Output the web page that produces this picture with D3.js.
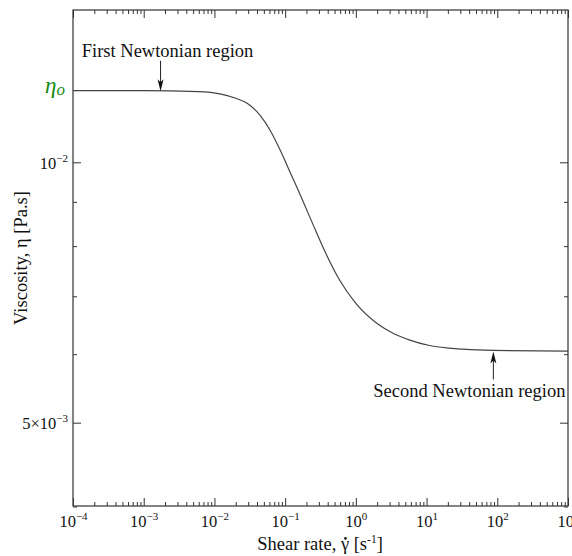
<!DOCTYPE html>
<html>
<head>
<meta charset="utf-8">
<script src="https://cdn.jsdelivr.net/npm/d3@7"></script>
<style>
  body { margin: 0; background: #fff; }
  svg text { font-family: "Liberation Serif", "Times New Roman", serif; fill: #111; }
</style>
</head>
<body>
<svg id="chart" width="572" height="556"></svg>
<script>
// Flow curve: viscosity vs. shear rate (shear-thinning fluid between two Newtonian plateaus)
const shearRate = [1e-4, 1e-3, 0.006, 0.012, 0.02, 0.029, 0.044, 0.061, 0.085, 0.117, 0.157,
                   0.25, 0.39, 0.6, 1.0, 2.0, 3.4, 5.8, 11, 33, 87, 1000];
const viscosity = [0.01210, 0.01210, 0.01207, 0.01200, 0.01186, 0.01170, 0.01134, 0.01090,
                   0.01033, 0.009745, 0.00924, 0.00846, 0.00780, 0.00729, 0.00687, 0.00651,
                   0.00634, 0.00623, 0.00614, 0.00608, 0.00606, 0.00605];

// Axis ticks
const xMajorExponents = [-4, -3, -2, -1, 0, 1, 2, 3];
const xMajorLabels = ["−4", "−3", "−2", "−1", "0", "1", "2", "3"];
const yMajorTicks = [0.005, 0.01];
const yMajorLabels = [["5×10", "−3"], ["10", "−2"]];
const yMinorTicks = [0.004, 0.006, 0.007, 0.008, 0.009];

// Zero-shear viscosity and annotated plateau points
const zeroShearViscosity = 0.0121;
const annotationText = ["First Newtonian region", "Second Newtonian region"];
const annotationShear = [0.00173, 88];
const annotationViscosity = [0.0121, 0.00606];

const svg = d3.select("#chart");
const plot = { left: 73, right: 568, top: 10, bottom: 506 };

const x = d3.scaleLog().domain([1e-4, 1e3]).range([plot.left, plot.right]);
const y = d3.scaleLog().domain([0.004, 0.015]).range([plot.bottom + 0.5, plot.top]);

const axisColor = "#333";

// Minor x ticks: 2..9 in every decade
const xMinorTicks = [];
xMajorExponents.slice(0, -1).forEach(e => {
  for (let k = 2; k <= 9; k++) xMinorTicks.push(k * Math.pow(10, e));
});
const xMajorTicks = xMajorExponents.map(e => Math.pow(10, e));

function styleAxis(g) {
  g.select(".domain").remove();
  g.selectAll(".tick line").attr("stroke", axisColor).attr("stroke-width", 1);
}

// Bottom axis (labelled)
const gBottom = svg.append("g").attr("transform", `translate(0,${plot.bottom})`);
gBottom.call(d3.axisBottom(x).tickValues(xMajorTicks).tickSize(-8).tickFormat(() => ""))
  .call(styleAxis);
svg.append("g").attr("transform", `translate(0,${plot.bottom})`)
  .call(d3.axisBottom(x).tickValues(xMinorTicks).tickSize(-4).tickFormat(() => ""))
  .call(styleAxis);
gBottom.selectAll(".tick text").remove();
gBottom.selectAll(".tick").each(function(d, i) {
  const t = d3.select(this).append("text")
    .attr("y", 21).attr("text-anchor", "middle").attr("font-size", 16.5);
  t.append("tspan").text("10");
  t.append("tspan").attr("font-size", 11).attr("dy", -7).text(xMajorLabels[i]);
});

// Top axis (mirror, no labels)
svg.append("g").attr("transform", `translate(0,${plot.top})`)
  .call(d3.axisTop(x).tickValues(xMajorTicks).tickSize(-8).tickFormat(() => ""))
  .call(styleAxis);
svg.append("g").attr("transform", `translate(0,${plot.top})`)
  .call(d3.axisTop(x).tickValues(xMinorTicks).tickSize(-4).tickFormat(() => ""))
  .call(styleAxis);

// Left axis (labelled)
const gLeft = svg.append("g").attr("transform", `translate(${plot.left},0)`);
gLeft.call(d3.axisLeft(y).tickValues(yMajorTicks).tickSize(-8).tickFormat(() => ""))
  .call(styleAxis);
svg.append("g").attr("transform", `translate(${plot.left},0)`)
  .call(d3.axisLeft(y).tickValues(yMinorTicks).tickSize(-4).tickFormat(() => ""))
  .call(styleAxis);
gLeft.selectAll(".tick text").remove();
gLeft.selectAll(".tick").each(function(d, i) {
  const t = d3.select(this).append("text")
    .attr("x", -5).attr("y", 6).attr("text-anchor", "end").attr("font-size", 16.5);
  t.append("tspan").text(yMajorLabels[i][0]);
  t.append("tspan").attr("font-size", 11).attr("dy", -7).text(yMajorLabels[i][1]);
});

// Right axis (mirror, no labels)
svg.append("g").attr("transform", `translate(${plot.right},0)`)
  .call(d3.axisRight(y).tickValues(yMajorTicks).tickSize(-8).tickFormat(() => ""))
  .call(styleAxis);
svg.append("g").attr("transform", `translate(${plot.right},0)`)
  .call(d3.axisRight(y).tickValues(yMinorTicks).tickSize(-4).tickFormat(() => ""))
  .call(styleAxis);

// Frame
svg.append("rect")
  .attr("x", plot.left).attr("y", plot.top)
  .attr("width", plot.right - plot.left).attr("height", plot.bottom - plot.top)
  .attr("fill", "none").attr("stroke", axisColor).attr("stroke-width", 1.2);

// Viscosity curve
const line = d3.line()
  .x((d, i) => x(shearRate[i]))
  .y((d, i) => y(viscosity[i]))
  .curve(d3.curveMonotoneX);
svg.append("path")
  .datum(shearRate)
  .attr("d", line)
  .attr("fill", "none")
  .attr("stroke", "#444")
  .attr("stroke-width", 1.2);

// Annotations with arrows
const arrowHead = "M0,0 L-3,-12 L0,-9 L3,-12 Z";
// First plateau: text above, arrow pointing down
{
  const ax = x(annotationShear[0]), ay = y(annotationViscosity[0]);
  svg.append("text").attr("x", ax + 7).attr("y", ay - 34)
    .attr("text-anchor", "middle").attr("font-size", 18.5).text(annotationText[0]);
  svg.append("line").attr("x1", ax).attr("x2", ax).attr("y1", ay - 30).attr("y2", ay - 6)
    .attr("stroke", "#222").attr("stroke-width", 1);
  svg.append("path").attr("d", arrowHead).attr("transform", `translate(${ax},${ay + 0.5})`)
    .attr("fill", "#111");
}
// Second plateau: text below, arrow pointing up
{
  const ax = x(annotationShear[1]), ay = y(annotationViscosity[1]);
  svg.append("text").attr("x", ax - 24).attr("y", ay + 47)
    .attr("text-anchor", "middle").attr("font-size", 18.5).text(annotationText[1]);
  svg.append("line").attr("x1", ax).attr("x2", ax).attr("y1", ay + 29).attr("y2", ay + 6)
    .attr("stroke", "#222").attr("stroke-width", 1);
  svg.append("path").attr("d", arrowHead).attr("transform", `translate(${ax},${ay + 1}) rotate(180)`)
    .attr("fill", "#111");
}

// Zero-shear viscosity label
{
  const t = svg.append("text")
    .attr("x", plot.left - 28).attr("y", y(zeroShearViscosity) + 2)
    .attr("text-anchor", "start").attr("font-size", 23).attr("font-style", "italic")
    .style("fill", "#138a13");
  t.append("tspan").text("η");
  t.append("tspan").attr("font-size", 17).attr("dy", 2).text("o");
}

// Axis titles
{
  const t = svg.append("text").attr("x", 320).attr("y", 550)
    .attr("text-anchor", "middle").attr("font-size", 18.5);
  t.append("tspan").text("Shear rate, γ [s");
  t.append("tspan").attr("font-size", 11.5).attr("dy", -7).text("-1");
  t.append("tspan").attr("dy", 7).text("]");
  // dot above gamma (time derivative)
  const node = t.node();
  const idx = "Shear rate, ".length;
  const ext = node.getExtentOfChar(idx);
  svg.append("circle")
    .attr("cx", ext.x + ext.width / 2 + 0.5)
    .attr("cy", ext.y + ext.height * 0.22)
    .attr("r", 1.3)
    .attr("fill", "#111");
}
svg.append("text")
  .attr("transform", "translate(27,258) rotate(-90)")
  .attr("text-anchor", "middle").attr("font-size", 18.5)
  .text("Viscosity, η [Pa.s]");
</script>
</body>
</html>
